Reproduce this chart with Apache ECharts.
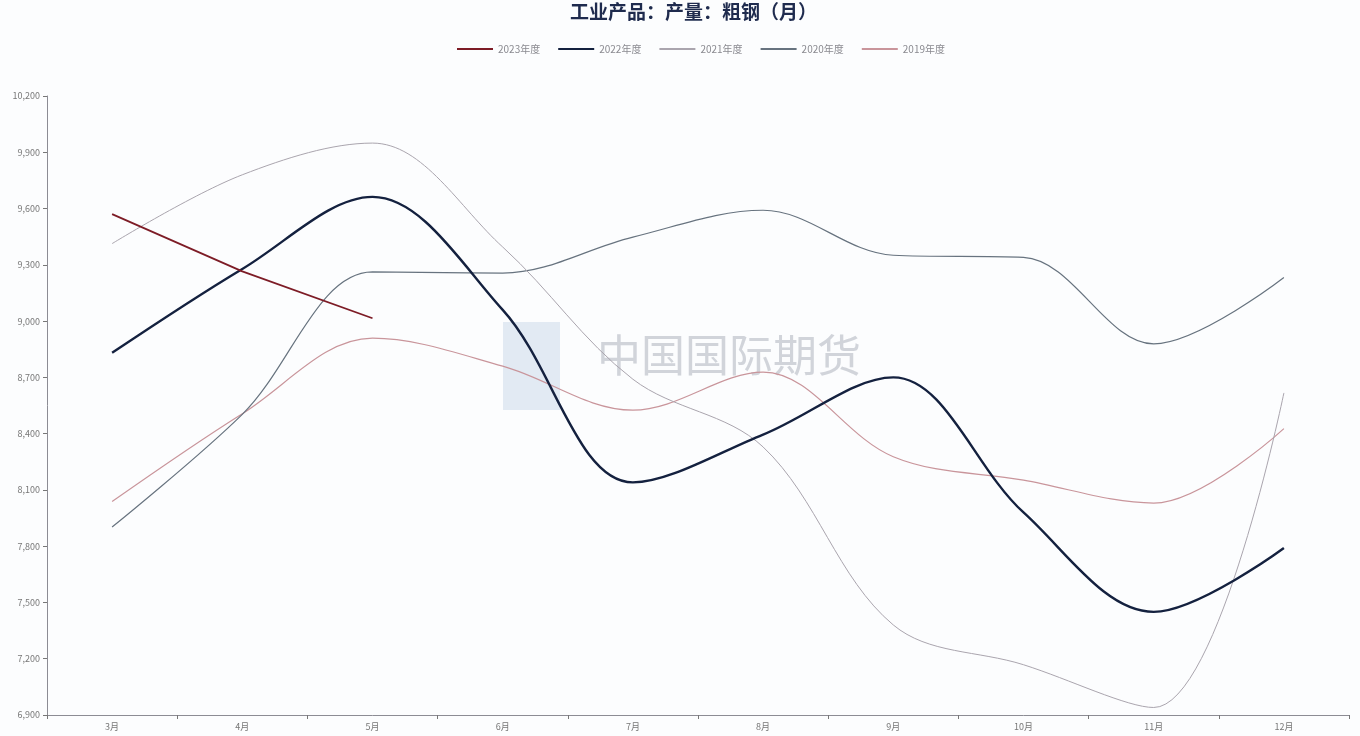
<!DOCTYPE html>
<html>
<head>
<meta charset="utf-8">
<script src="https://cdn.jsdelivr.net/npm/echarts@6/dist/echarts.min.js"></script>
<style>
html,body{margin:0;padding:0;background:#fcfdfe;}
#chart{width:1360px;height:736px;}
</style>
</head>
<body>
<div id="chart"></div>
<script>
const titleText = '工业产品：产量：粗钢（月）';
const categories = ['3月','4月','5月','6月','7月','8月','9月','10月','11月','12月'];
const seriesNames = ['2023年度','2022年度','2021年度','2020年度','2019年度'];
const v2023 = [9570, 9265, 9015];
const v2022 = [8831, 9278, 9662, 9060, 8140, 8395, 8700, 7980, 7450, 7790];
const v2021 = [9413, 9780, 9949, 9395, 8690, 8329, 7380, 7168, 6940, 8617];
const v2020 = [7902, 8503, 9262, 9256, 9448, 9591, 9351, 9340, 8879, 9232];
const v2019 = [8038, 8506, 8909, 8760, 8525, 8728, 8277, 8152, 8030, 8427];
const yMin = 6900, yMax = 10200, yStep = 300;

const colors = ['#7d1c26', '#14213f', '#aaa5ae', '#67737f', '#c9959b'];
const widths = [1.8, 2.4, 1, 1.2, 1.2];
const values = [v2023, v2022, v2021, v2020, v2019];

const chart = echarts.init(document.getElementById('chart'));
const fontFam = '"Noto Sans CJK SC", "Noto Sans", sans-serif';

chart.setOption({
  backgroundColor: '#fcfdfe',
  animation: false,
  title: {
    text: titleText,
    left: 565,
    top: -3,
    textStyle: { fontSize: 19, fontWeight: 'bold', color: '#1f2b4e', fontFamily: fontFam }
  },
  legend: {
    top: 39,
    left: 452,
    itemWidth: 36,
    itemHeight: 2,
    itemGap: 18,
    icon: 'rect',
    textStyle: { fontSize: 10, color: '#8a8a90', fontFamily: fontFam },
    data: seriesNames
  },
  grid: { left: 47, right: 11, top: 96, bottom: 21, containLabel: false },
  xAxis: {
    type: 'category',
    data: categories,
    boundaryGap: true,
    axisLine: { lineStyle: { color: '#8c8c94', width: 1 } },
    axisTick: { show: true, length: 4, lineStyle: { color: '#777' } },
    axisLabel: { fontSize: 9, color: '#777', margin: 7, fontFamily: fontFam }
  },
  yAxis: {
    type: 'value',
    min: yMin,
    max: yMax,
    interval: yStep,
    splitLine: { show: false },
    axisLine: { show: true, lineStyle: { color: '#8c8c94', width: 1 } },
    axisTick: { show: true, length: 4, lineStyle: { color: '#777' } },
    axisLabel: {
      fontSize: 9, color: '#777', margin: 7, fontFamily: fontFam,
      formatter: v => v.toLocaleString('en-US')
    }
  },
  graphic: [
    { type: 'rect', z: 0, shape: { x: 503, y: 322, width: 57, height: 88 }, style: { fill: '#dae3ef', opacity: 0.75 } },
    { type: 'text', z: 0, left: 597, top: 333, style: { text: '中国国际期货', fontSize: 44, fill: '#c9ccd3', opacity: 0.85, fontFamily: fontFam } }
  ],
  series: seriesNames.map((n, i) => ({
    name: n,
    type: 'line',
    data: values[i],
    smooth: i === 0 ? false : 0.35,
    symbol: 'none',
    showSymbol: false,
    z: 10 - i,
    lineStyle: { color: colors[i], width: widths[i] },
    itemStyle: { color: colors[i] }
  }))
});
</script>
</body>
</html>
